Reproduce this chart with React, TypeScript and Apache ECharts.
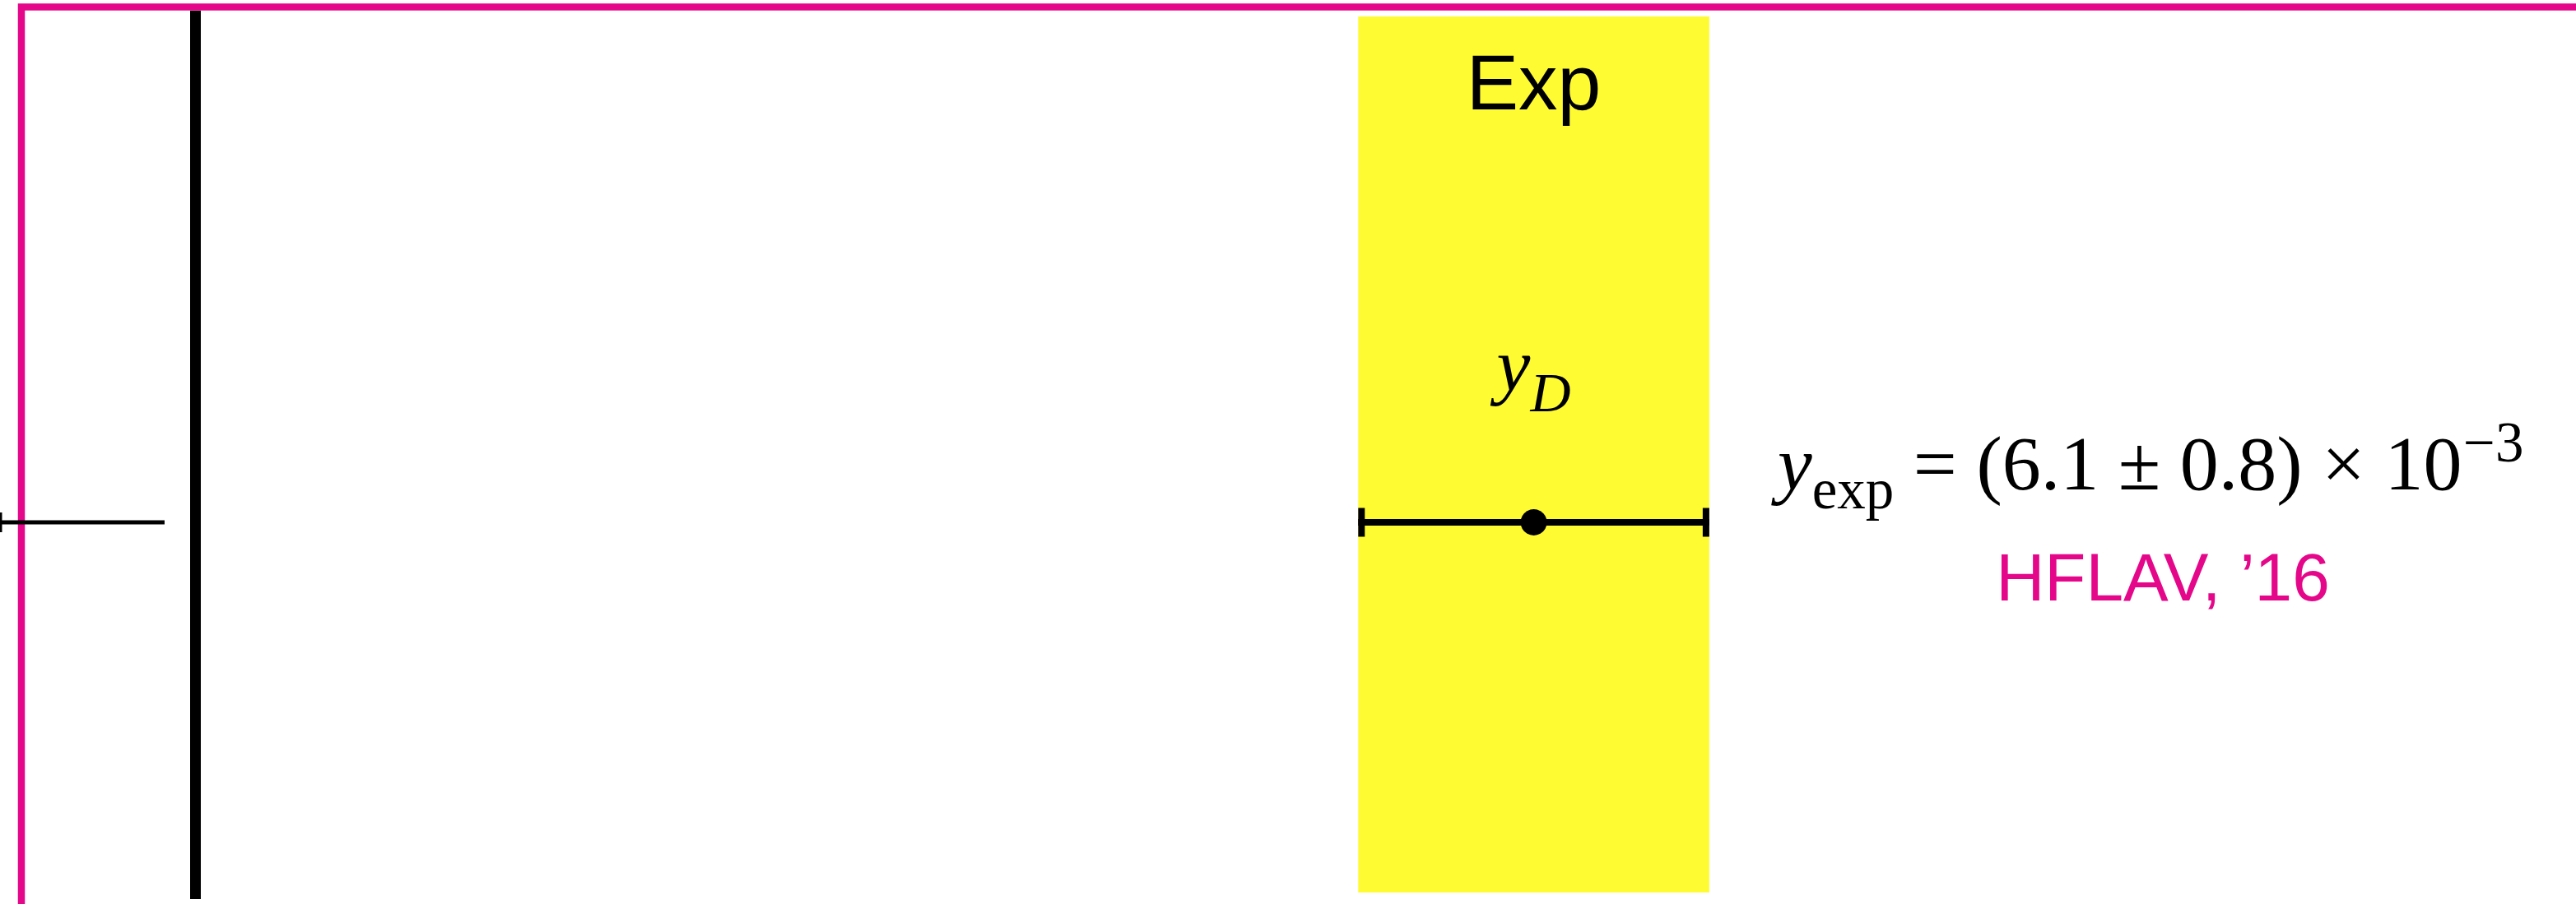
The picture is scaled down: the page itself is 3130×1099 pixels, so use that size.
import { useEffect, useRef } from "react";
import * as echarts from "echarts";

// Averaged measurement shown in the yellow band (units of 1e-3)
const measurementNames = ["y_D"];
const measurementValues = [6.1];
const measurementErrors = [0.8];
const bandTitles = ["Exp"];
// Error bar of a neighbouring entry, cut by the left edge of the panel: [low, high]
const edgeBarRange = [-0.89, -0.14];
const creditText = "HFLAV, \u201916";

// Axis extents
const xRange = [-0.89, 10.85];
const rowRange = [0, 108];
const measurementRow = 45.8;
const bandRowRange = [0.8, 107.3];

const MAGENTA = "#e5078a";
const YELLOW = "#fffb33";
const SERIF = "'Liberation Serif', 'Times New Roman', serif";
const SANS = "'Liberation Sans', Arial, sans-serif";

// offset from the alphabetic baseline to the "central" baseline used by the svg text
const serifMid = 0.3375;
const sansMid = 0.3465;

export default function App() {
  const ref = useRef<HTMLDivElement>(null);

  useEffect(() => {
    const chart = echarts.init(ref.current!, undefined, { renderer: "svg" });

    const v = measurementValues[0];
    const e = measurementErrors[0];
    const [nameBase, nameSub] = measurementNames[0].split("_");

    // formula to the right of the band
    const mainSize = 94;
    const subSize = 69;
    const eqX = 2160;
    const eqBase = 595;
    const yW = 0.444 * mainSize;
    const expW = 1.444 * subSize;
    const body = ` = (${v.toFixed(1)} \u00b1 ${e.toFixed(1)}) \u00d7 10`;
    const bodyW = 7.358 * mainSize;

    const option = {
      animation: false,
      backgroundColor: "#ffffff",
      grid: { left: 0, right: 0, top: 13, bottom: 6, containLabel: false },
      xAxis: {
        type: "value",
        min: xRange[0],
        max: xRange[1],
        axisLine: { show: false },
        axisTick: { show: false },
        axisLabel: { show: false },
        splitLine: { show: false },
      },
      yAxis: {
        type: "value",
        min: rowRange[0],
        max: rowRange[1],
        axisLine: { show: true, onZero: true, lineStyle: { color: "#000", width: 13, cap: "butt" } },
        axisTick: { show: false },
        axisLabel: { show: false },
        splitLine: { show: false },
      },
      graphic: [
        {
          type: "rect",
          z: 0,
          silent: true,
          shape: { x: 26, y: 8.5, width: 3400, height: 1400 },
          style: { fill: "none", stroke: MAGENTA, lineWidth: 8.5 },
        },
        {
          type: "text",
          x: eqX,
          y: eqBase - serifMid * mainSize,
          style: { text: "y", fontFamily: SERIF, fontStyle: "italic", fontSize: mainSize, fill: "#000", align: "left", verticalAlign: "middle" },
        },
        {
          type: "text",
          x: eqX + yW,
          y: eqBase + 23 - serifMid * subSize,
          style: { text: "exp", fontFamily: SERIF, fontSize: subSize, fill: "#000", align: "left", verticalAlign: "middle" },
        },
        {
          type: "text",
          x: eqX + yW + expW,
          y: eqBase - serifMid * mainSize,
          style: { text: body, fontFamily: SERIF, fontSize: mainSize, fill: "#000", align: "left", verticalAlign: "middle" },
        },
        {
          type: "text",
          x: eqX + yW + expW + bodyW,
          y: eqBase - 34 - serifMid * subSize,
          style: { text: "\u22123", fontFamily: SERIF, fontSize: subSize, fill: "#000", align: "left", verticalAlign: "middle" },
        },
        {
          type: "text",
          x: 2628,
          y: 730 - sansMid * 82,
          style: { text: creditText, fontFamily: SANS, fontSize: 82, fill: MAGENTA, align: "center", verticalAlign: "middle" },
        },
      ],
      series: [
        {
          // yellow band spanning the averaged value +/- its error
          type: "custom",
          z: 1,
          data: [[v - e, v + e, v]],
          renderItem: (_p: any, api: any) => {
            const [x0, yTop] = api.coord([api.value(0), bandRowRange[1]]);
            const [x1, yBot] = api.coord([api.value(1), bandRowRange[0]]);
            const [xc] = api.coord([api.value(2), bandRowRange[1]]);
            return {
              type: "group",
              children: [
                { type: "rect", shape: { x: x0, y: yTop, width: x1 - x0, height: yBot - yTop }, style: { fill: YELLOW } },
                {
                  type: "text",
                  x: xc,
                  y: yTop + 113 - sansMid * 95,
                  style: { text: bandTitles[0], fontFamily: SANS, fontSize: 95, fill: "#000", align: "center", verticalAlign: "middle" },
                },
              ],
            };
          },
        },
        {
          // partial error bar at the left edge
          type: "custom",
          z: 3,
          data: [[edgeBarRange[0], edgeBarRange[1], measurementRow]],
          renderItem: (_p: any, api: any) => {
            const [xl, y] = api.coord([api.value(0), api.value(2)]);
            const [xh] = api.coord([api.value(1), api.value(2)]);
            return {
              type: "group",
              children: [
                { type: "line", shape: { x1: xl, y1: y, x2: xh, y2: y }, style: { stroke: "#000", lineWidth: 5 } },
                { type: "line", shape: { x1: xl, y1: y - 12, x2: xl, y2: y + 12 }, style: { stroke: "#000", lineWidth: 5 } },
              ],
            };
          },
        },
        {
          // averaged measurement with its error bar and name
          type: "custom",
          z: 4,
          data: [[v, e, measurementRow]],
          renderItem: (_p: any, api: any) => {
            const val = api.value(0);
            const err = api.value(1);
            const row = api.value(2);
            const [xl, y] = api.coord([val - err, row]);
            const [xh] = api.coord([val + err, row]);
            const [xc] = api.coord([val, row]);
            const capH = 35;
            return {
              type: "group",
              children: [
                { type: "line", shape: { x1: xl, y1: y, x2: xh, y2: y }, style: { stroke: "#000", lineWidth: 8 } },
                { type: "line", shape: { x1: xl + 4, y1: y - capH / 2, x2: xl + 4, y2: y + capH / 2 }, style: { stroke: "#000", lineWidth: 8 } },
                { type: "line", shape: { x1: xh - 4, y1: y - capH / 2, x2: xh - 4, y2: y + capH / 2 }, style: { stroke: "#000", lineWidth: 8 } },
                { type: "circle", shape: { cx: xc, cy: y, r: 16 }, style: { fill: "#000" } },
                {
                  type: "text",
                  x: xc - 45,
                  y: y - 160 - serifMid * 92,
                  style: { text: nameBase, fontFamily: SERIF, fontStyle: "italic", fontSize: 92, fill: "#000", align: "left", verticalAlign: "middle" },
                },
                {
                  type: "text",
                  x: xc - 4,
                  y: y - 135 - serifMid * 68,
                  style: { text: nameSub, fontFamily: SERIF, fontStyle: "italic", fontSize: 68, fill: "#000", align: "left", verticalAlign: "middle" },
                },
              ],
            };
          },
        },
      ],
    };

    chart.setOption(option as any);
    return () => chart.dispose();
  }, []);

  return (
    <div
      ref={ref}
      style={{ position: "fixed", left: 0, top: 0, width: 3130, height: 1099, background: "#fff" }}
    />
  );
}
